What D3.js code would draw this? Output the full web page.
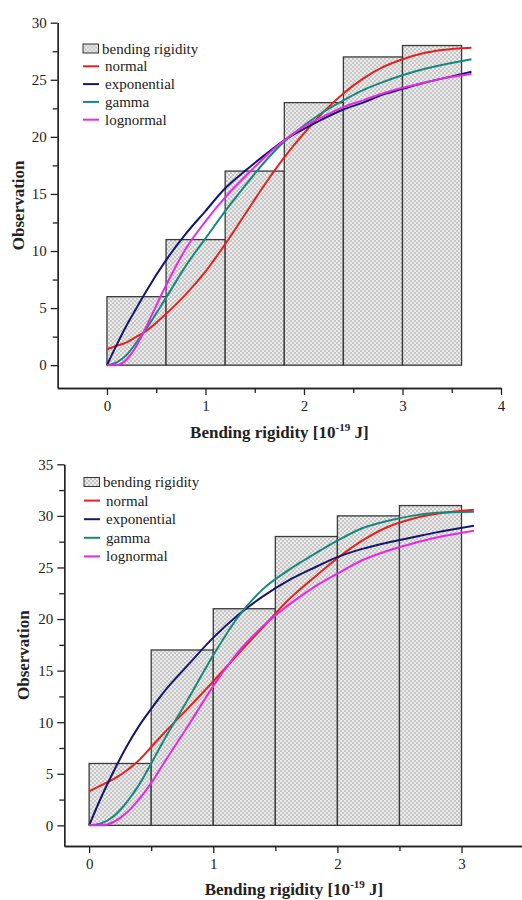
<!DOCTYPE html>
<html lang="en">
<head>
<meta charset="utf-8">
<title>Bending rigidity</title>
<script src="https://d3js.org/d3.v7.min.js"></script>
<style>
  body { margin: 0; background: #fff; }
</style>
</head>
<body>
<script>
// ---- top panel data
var topEdges = [0, 0.6, 1.2, 1.8, 2.4, 3.0, 3.6]
var topCounts = [6, 11, 17, 23, 27, 28]
var topX = [0, 0.1, 0.2, 0.3, 0.4, 0.6, 0.8, 1.0, 1.2, 1.4, 1.6, 1.8, 2.0, 2.2, 2.4, 2.6, 2.8, 3.0, 3.2, 3.4, 3.7]
var topNormal = [1.4, 1.7, 2.0, 2.5, 3.0, 4.5, 6.2, 8.2, 10.6, 13.2, 15.8, 18.2, 20.3, 22.2, 23.8, 25.1, 26.1, 26.8, 27.3, 27.6, 27.8]
var topExponential = [0, 1.8, 3.5, 5.0, 6.5, 9.2, 11.5, 13.5, 15.5, 17.0, 18.4, 19.7, 20.7, 21.6, 22.4, 23.0, 23.7, 24.2, 24.7, 25.1, 25.7]
var topGamma = [0, 0.25, 0.9, 2.0, 3.2, 5.9, 8.7, 11.1, 13.5, 15.7, 17.8, 19.6, 21.0, 22.2, 23.2, 24.1, 24.8, 25.4, 25.9, 26.3, 26.8]
var topLognormal = [0, 0, 0.5, 1.7, 3.4, 7.0, 10.2, 12.6, 14.7, 16.5, 18.2, 19.7, 20.9, 21.8, 22.6, 23.2, 23.8, 24.3, 24.7, 25.1, 25.5]
var topXTicks = [0, 1, 2, 3, 4]
var topYTicks = [0, 5, 10, 15, 20, 25, 30]

// ---- bottom panel data
var botEdges = [0, 0.5, 1.0, 1.5, 2.0, 2.5, 3.0]
var botCounts = [6, 17, 21, 28, 30, 31]
var botX = [0, 0.1, 0.2, 0.3, 0.4, 0.5, 0.6, 0.8, 1.0, 1.2, 1.4, 1.6, 1.8, 2.0, 2.2, 2.4, 2.6, 2.8, 3.1]
var botNormal = [3.3, 3.9, 4.5, 5.3, 6.3, 7.6, 8.9, 11.4, 13.95, 16.6, 19.2, 21.8, 23.9, 25.9, 27.6, 28.9, 29.7, 30.2, 30.6]
var botExponential = [0, 2.8, 5.3, 7.6, 9.6, 11.3, 12.9, 15.6, 18.2, 20.4, 22.2, 23.7, 24.9, 26.0, 26.8, 27.4, 27.9, 28.4, 29.05]
var botGamma = [0, 0.2, 0.9, 2.2, 3.9, 6.0, 8.2, 12.3, 16.5, 20.2, 22.9, 24.7, 26.2, 27.6, 28.8, 29.5, 30.0, 30.3, 30.4]
var botLognormal = [0, 0, 0.35, 1.2, 2.5, 4.1, 6.0, 9.7, 13.5, 16.8, 19.3, 21.3, 23.0, 24.4, 25.7, 26.6, 27.3, 27.9, 28.55]
var botXTicks = [0, 1, 2, 3]
var botYTicks = [0, 5, 10, 15, 20, 25, 30, 35]

var seriesNames = ["normal", "exponential", "gamma", "lognormal"]
var seriesColors = ["#e3221f", "#16166e", "#17887c", "#e52ae5"]
var serif = "'Liberation Serif', 'Times New Roman', serif"

var svg = d3.select("body").append("svg").attr("width", 522).attr("height", 900)
    .style("font-family", serif)

// light checker fill used by the bars
var pat = svg.append("defs").append("pattern").attr("id", "checks")
    .attr("patternUnits", "userSpaceOnUse").attr("width", 4).attr("height", 4)
pat.append("rect").attr("width", 4).attr("height", 4).attr("fill", "#c6c6c6")
pat.append("rect").attr("width", 2).attr("height", 2).attr("fill", "#ebebeb")
pat.append("rect").attr("x", 2).attr("y", 2).attr("width", 2).attr("height", 2).attr("fill", "#ebebeb")

function drawPanel(p) {
    var g = svg.append("g")
    var x = d3.scaleLinear().domain(p.xDomain).range(p.xRange)
    var y = d3.scaleLinear().domain(p.yDomain).range(p.yRange)

    // bars
    g.selectAll("rect.bar").data(p.counts).enter().append("rect")
        .attr("class", "bar")
        .attr("x", function(d, i) { return x(p.edges[i]) })
        .attr("width", function(d, i) { return x(p.edges[i + 1]) - x(p.edges[i]) })
        .attr("y", function(d) { return y(d) })
        .attr("height", function(d) { return y(0) - y(d) })
        .attr("fill", "url(#checks)").attr("stroke", "#3a3a3a").attr("stroke-width", 1.3)

    // fitted curves
    var line = d3.line().curve(d3.curveMonotoneX)
        .x(function(d) { return x(d[0]) })
        .y(function(d) { return y(d[1]) })
    p.series.forEach(function(vals, k) {
        var pts = p.xs.map(function(xv, i) { return [xv, vals[i]] })
        g.append("path").datum(pts).attr("d", line)
            .attr("fill", "none").attr("stroke", seriesColors[k]).attr("stroke-width", 2)
    })

    // axes
    var x0 = p.yRange[0]
    var xAxis = d3.axisBottom(x).tickValues(p.xTicks).tickFormat(d3.format("d")).tickSize(7).tickSizeOuter(0).tickPadding(5)
    var xMinor = d3.axisBottom(x).tickValues(p.xTicks.map(function(t) { return t + 0.5 }).filter(function(t) { return t < p.xDomain[1] }))
        .tickFormat("").tickSize(5).tickSizeOuter(0)
    var yAxis = d3.axisLeft(y).tickValues(p.yTicks).tickFormat(d3.format("d")).tickSize(7).tickSizeOuter(0).tickPadding(4)
    var yMinor = d3.axisLeft(y).tickValues(p.yTicks.slice(0, -1).map(function(t) { return t + 2.5 }))
        .tickFormat("").tickSize(5).tickSizeOuter(0)

    ;[xAxis, xMinor].forEach(function(a) {
        g.append("g").attr("transform", "translate(0," + x0 + ")").call(a)
    })
    ;[yAxis, yMinor].forEach(function(a) {
        g.append("g").attr("transform", "translate(" + p.xRange[0] + ",0)").call(a)
    })
    g.selectAll(".domain, .tick line").attr("stroke", "#222").attr("stroke-width", 1.3)
    g.selectAll(".tick text").attr("font-family", null).style("font-family", serif)
        .style("font-size", "15px").attr("fill", "#222")

    // axis titles
    var xt = g.append("text").attr("x", (p.xRange[0] + p.xRange[1]) / 2).attr("y", p.xTitleY)
        .attr("text-anchor", "middle").attr("fill", "#222")
        .style("font-family", serif).style("font-size", "17px").style("font-weight", "bold")
    xt.append("tspan").text("Bending rigidity [10")
    xt.append("tspan").attr("dy", -7).style("font-size", "11px").text("-19")
    xt.append("tspan").attr("dy", 7).text(" J]")

    g.append("text").attr("transform", "translate(" + p.yTitleX + "," + (p.yRange[0] + p.yRange[1]) / 2 + ") rotate(-90)")
        .attr("text-anchor", "middle").attr("fill", "#222")
        .style("font-family", serif).style("font-size", "17px").style("font-weight", "bold")
        .text("Observation")

    // legend
    var lg = g.append("g").attr("transform", "translate(" + p.legend[0] + "," + p.legend[1] + ")")
    lg.append("rect").attr("x", 0).attr("y", -4.5).attr("width", 15.5).attr("height", 9)
        .attr("fill", "url(#checks)").attr("stroke", "#333").attr("stroke-width", 1)
    lg.append("text").attr("x", 19).attr("y", 5).attr("fill", "#222")
        .style("font-family", serif).style("font-size", "15px").text("bending rigidity")
    seriesNames.forEach(function(name, k) {
        var yy = p.legendStep * (k + 1)
        lg.append("line").attr("x1", 0).attr("x2", 16).attr("y1", yy).attr("y2", yy)
            .attr("stroke", seriesColors[k]).attr("stroke-width", 2)
        lg.append("text").attr("x", 22).attr("y", yy + 5).attr("fill", "#222")
            .style("font-family", serif).style("font-size", "15px").text(name)
    })
}

drawPanel({
    edges: topEdges, counts: topCounts, xs: topX,
    series: [topNormal, topExponential, topGamma, topLognormal],
    xTicks: topXTicks, yTicks: topYTicks,
    xDomain: [-0.5, 4], xRange: [57.7, 501],
    yDomain: [-2, 30], yRange: [388, 22.7],
    xTitleY: 438, yTitleX: 24,
    legend: [83, 48.5], legendStep: 17.8
})

drawPanel({
    edges: botEdges, counts: botCounts, xs: botX,
    series: [botNormal, botExponential, botGamma, botLognormal],
    xTicks: botXTicks, yTicks: botYTicks,
    xDomain: [-0.2, 3.5], xRange: [64.3, 523.6],
    yDomain: [-2, 35], yRange: [846, 464.3],
    xTitleY: 895, yTitleX: 29,
    legend: [84, 482], legendStep: 18.6
})
</script>
</body>
</html>
